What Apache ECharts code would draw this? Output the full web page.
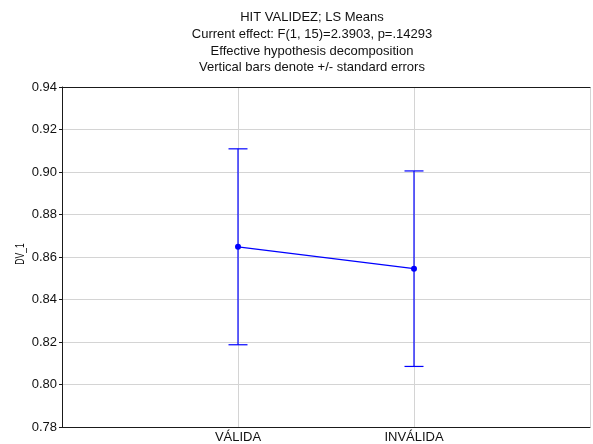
<!DOCTYPE html>
<html>
<head>
<meta charset="utf-8">
<script src="https://cdn.jsdelivr.net/npm/echarts@6/dist/echarts.min.js"></script>
<style>
  html, body { margin: 0; padding: 0; background: #fff; }
  #chart { width: 593px; height: 444px; }
</style>
</head>
<body>
<div id="chart"></div>
<script>
// LS means of DV_1 by validity condition, with +/- standard errors
const categories = ['VÁLIDA', 'INVÁLIDA'];
const means = [0.8648, 0.8545];
const stdErrors = [0.0461, 0.0460];
const yTicks = [0.78, 0.80, 0.82, 0.84, 0.86, 0.88, 0.90, 0.92, 0.94];
const yName = 'DV_1';

const titleLines = [
  'HIT VALIDEZ; LS Means',
  'Current effect: F(1, 15)=2.3903, p=.14293',
  'Effective hypothesis decomposition',
  'Vertical bars denote +/- standard errors'
];

const FONT = '"Liberation Sans", Arial, sans-serif';
const BLUE = '#0000ff';
const AXIS_DARK = '#1a1a1a';
const GRID_GREY = '#d4d4d4';

// categories sit at x = 1, 2 on a 0..3 value axis; the plot runs past the right edge
const pointData = categories.map((c, i) => [i + 1, means[i]]);
const errData = categories.map((c, i) => [i + 1, means[i] - stdErrors[i], means[i] + stdErrors[i]]);

const chart = echarts.init(document.getElementById('chart'), null, { renderer: 'canvas' });

chart.setOption({
  animation: false,
  backgroundColor: '#ffffff',
  title: {
    text: titleLines.join('\n'),
    left: 307,
    textAlign: 'center',
    top: 4,
    textStyle: {
      fontFamily: FONT,
      fontSize: 13,
      fontWeight: 'normal',
      color: '#111',
      lineHeight: 16.8
    }
  },
  // narrow, rotated y-axis title
  graphic: [
    {
      type: 'text',
      x: 20,
      y: 254,
      rotation: Math.PI / 2,
      scaleX: 0.66,
      style: {
        text: yName,
        font: '13px ' + FONT,
        fill: '#111',
        align: 'center',
        verticalAlign: 'middle'
      }
    }
  ],
  grid: {
    left: 62,
    width: 537,
    top: 87,
    bottom: 15,
    show: false
  },
  xAxis: [
    {
      type: 'value',
      min: 0,
      max: 3,
      interval: 1,
      axisLine: { show: true, lineStyle: { color: AXIS_DARK, width: 1 } },
      axisTick: { show: false },
      splitLine: { show: true, lineStyle: { color: GRID_GREY, width: 1 } },
      axisLabel: {
        fontFamily: FONT,
        fontSize: 13,
        color: '#111',
        margin: 4,
        formatter: function (v) {
          const idx = Math.round(v) - 1;
          return (Math.abs(v - Math.round(v)) < 1e-6 && idx >= 0 && idx < categories.length) ? categories[idx] : '';
        }
      }
    },
    {
      // top frame line
      type: 'value',
      position: 'top',
      min: 0,
      max: 3,
      axisLine: { show: true, lineStyle: { color: AXIS_DARK, width: 1 } },
      axisTick: { show: false },
      axisLabel: { show: false },
      splitLine: { show: false }
    }
  ],
  yAxis: {
    type: 'value',
    min: yTicks[0],
    max: yTicks[yTicks.length - 1],
    interval: 0.02,
    axisLine: { show: true, lineStyle: { color: AXIS_DARK, width: 1 } },
    axisTick: { show: true, length: 3, lineStyle: { color: AXIS_DARK } },
    splitLine: { show: true, lineStyle: { color: GRID_GREY, width: 1 } },
    axisLabel: {
      fontFamily: FONT,
      fontSize: 13,
      color: '#111',
      margin: 5,
      formatter: v => v.toFixed(2)
    }
  },
  series: [
    {
      type: 'custom',
      z: 3,
      data: errData,
      renderItem: function (params, api) {
        const x = api.value(0);
        const lo = api.coord([x, api.value(1)]);
        const hi = api.coord([x, api.value(2)]);
        const half = 9.5;
        const style = { stroke: BLUE, lineWidth: 1.2 };
        return {
          type: 'group',
          children: [
            { type: 'line', shape: { x1: hi[0], y1: hi[1], x2: lo[0], y2: lo[1] }, style: style },
            { type: 'line', shape: { x1: hi[0] - half, y1: hi[1], x2: hi[0] + half, y2: hi[1] }, style: style },
            { type: 'line', shape: { x1: lo[0] - half, y1: lo[1], x2: lo[0] + half, y2: lo[1] }, style: style }
          ]
        };
      }
    },
    {
      type: 'line',
      z: 4,
      data: pointData,
      symbol: 'circle',
      symbolSize: 6,
      lineStyle: { color: BLUE, width: 1.2 },
      itemStyle: { color: BLUE },
      emphasis: { disabled: true }
    }
  ]
});
</script>
</body>
</html>
